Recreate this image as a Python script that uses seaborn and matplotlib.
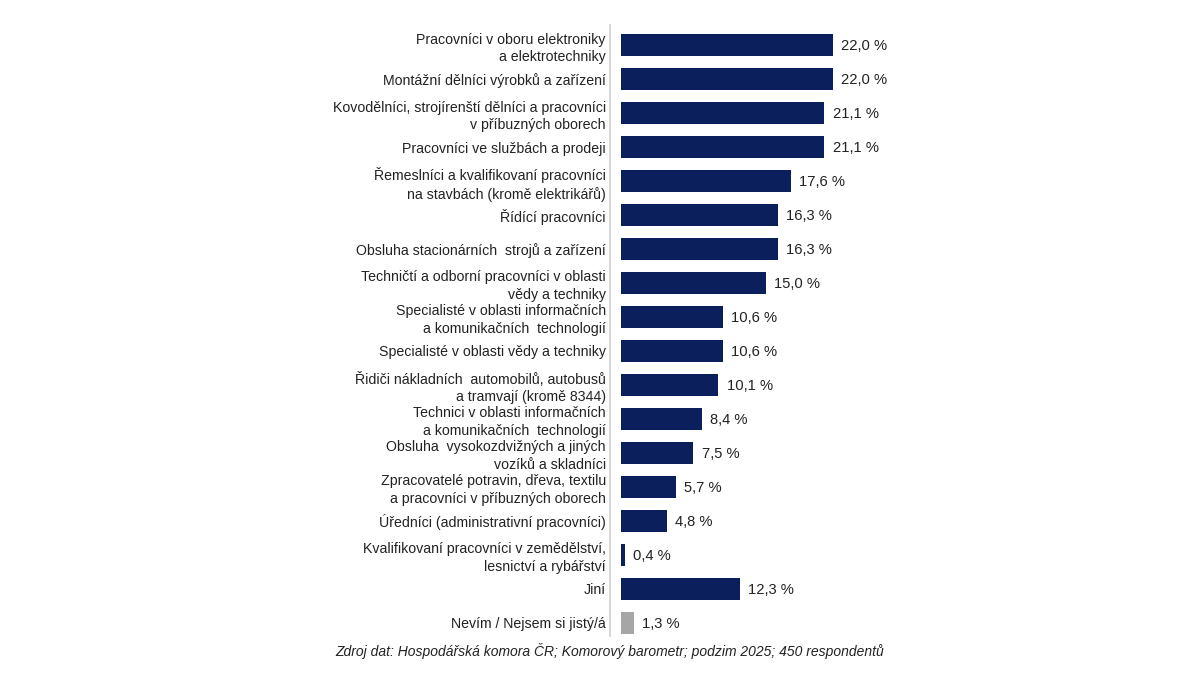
import matplotlib
matplotlib.use("Agg")
import matplotlib.pyplot as plt
import seaborn as sns
import pandas as pd

kategorie = [
    "Pracovníci v oboru elektroniky\na elektrotechniky",
    "Montážní dělníci výrobků a zařízení",
    "Kovodělníci, strojírenští dělníci a pracovníci\nv příbuzných oborech",
    "Pracovníci ve službách a prodeji",
    "Řemeslníci a kvalifikovaní pracovníci\nna stavbách (kromě elektrikářů)",
    "Řídící pracovníci",
    "Obsluha stacionárních  strojů a zařízení",
    "Techničtí a odborní pracovníci v oblasti\nvědy a techniky",
    "Specialisté v oblasti informačních\na komunikačních  technologií",
    "Specialisté v oblasti vědy a techniky",
    "Řidiči nákladních  automobilů, autobusů\na tramvají (kromě 8344)",
    "Technici v oblasti informačních\na komunikačních  technologií",
    "Obsluha  vysokozdvižných a jiných\nvozíků a skladníci",
    "Zpracovatelé potravin, dřeva, textilu\na pracovníci v příbuzných oborech",
    "Úředníci (administrativní pracovníci)",
    "Kvalifikovaní pracovníci v zemědělství,\nlesnictví a rybářství",
    "Jiní",
    "Nevím / Nejsem si jistý/á",
]
hodnoty = [22.0, 22.0, 21.1, 21.1, 17.6, 16.3, 16.3, 15.0, 10.6, 10.6,
           10.1, 8.4, 7.5, 5.7, 4.8, 0.4, 12.3, 1.3]
skupina = ["odpoved"] * 17 + ["nevim"]

df = pd.DataFrame({"kategorie": kategorie, "hodnota": hodnoty, "skupina": skupina})

sns.set_style("white")
plt.rcParams["font.family"] = ["Liberation Sans", "DejaVu Sans"]

fig = plt.figure(figsize=(12, 6.75), dpi=100)
ax = fig.add_axes([0.5083, 0.058, 0.21, 0.905])

sns.barplot(data=df, x="hodnota", y="kategorie", hue="skupina",
            palette={"odpoved": "#0A1F5C", "nevim": "#A6A6A6"},
            saturation=1, dodge=False, width=0.65, legend=False,
            linewidth=0, ax=ax)

for i, v in enumerate(hodnoty):
    ax.text(v + 0.85, i + 0.04, f"{v:.1f} %".replace(".", ","), va="center", ha="left",
            fontsize=10.6, color="#222222")

ax.set_xlim(-1.15, 25)
ax.set_ylim(17.38, -0.59)
ax.set_xlabel("")
ax.set_ylabel("")
ax.set_xticks([])
ax.tick_params(axis="y", length=0, pad=3, labelsize=10.2, labelcolor="#222222")
for lab in ax.get_yticklabels():
    lab.set_horizontalalignment("right")
    lab.set_multialignment("right")
    lab.set_linespacing(1.3)

for s in ["top", "right", "bottom"]:
    ax.spines[s].set_visible(False)
ax.spines["left"].set_color("#D0D0D0")
ax.spines["left"].set_linewidth(1.2)

fig.text(0.508, 0.035,
         "Zdroj dat: Hospodářská komora ČR; Komorový barometr; podzim 2025; 450 respondentů",
         ha="center", va="center", style="italic", fontsize=10, color="#222222")

fig.savefig("out.png", dpi=100)
